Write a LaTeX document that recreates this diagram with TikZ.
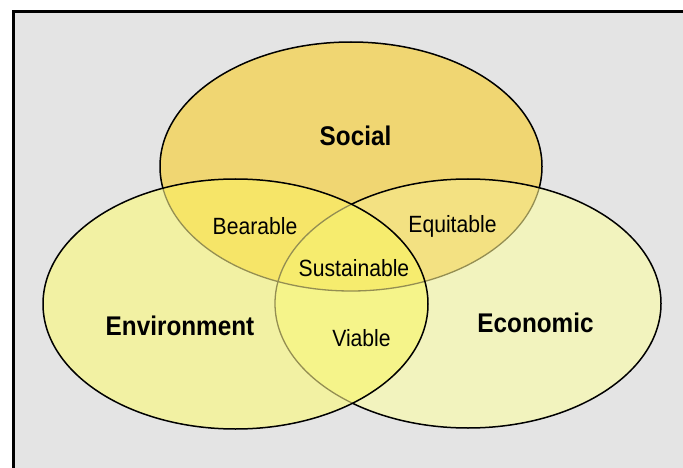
\documentclass[tikz,border=0pt]{standalone}
\usepackage{fontspec}
\setmainfont{Liberation Sans}[FakeStretch=0.9]
\definecolor{bgc}{HTML}{E4E4E4}
\definecolor{socialc}{HTML}{F0D672}
\definecolor{envc}{HTML}{F2F1A3}
\definecolor{econc}{HTML}{F2F3BE}
\definecolor{bearc}{HTML}{F6E568}
\definecolor{equitc}{HTML}{F3E182}
\definecolor{viabc}{HTML}{F5F48A}
\definecolor{susc}{HTML}{F6EC6E}
\definecolor{faintc}{HTML}{948E52}
\def\socialE{(351,166.5) ellipse [x radius=191pt, y radius=124.5pt]}
\def\envE{(235.5,304) ellipse [x radius=192.5pt, y radius=125pt]}
\def\econE{(468,303.5) ellipse [x radius=193pt, y radius=124.5pt]}
\begin{document}
\begin{tikzpicture}[x=1pt,y=-1pt,
  edge/.style={draw=black, line width=1.5pt},
  faint/.style={draw=faintc, line width=1.3pt},
  big/.style={font=\fontsize{27}{30}\selectfont\bfseries, inner sep=0pt, anchor=base},
  small/.style={font=\fontsize{23.5}{26}\selectfont, inner sep=0pt, anchor=base}]
\useasboundingbox (0,0) rectangle (683,468);
\fill[white] (0,0) rectangle (683,468);
\draw[line width=2.5pt, fill=bgc] (13.5,11.5) rectangle (700,490);
% Social
\fill[socialc] \socialE;
\draw[edge] \socialE;
% Economic
\fill[econc] \econE;
\begin{scope}
  \clip \econE;
  \fill[equitc] \socialE;
  \draw[faint] \socialE;
\end{scope}
\draw[edge] \econE;
% Environment
\fill[envc] \envE;
\begin{scope}
  \clip \envE;
  \fill[bearc] \socialE;
  \fill[viabc] \econE;
  \begin{scope}
    \clip \socialE;
    \fill[susc] \econE;
  \end{scope}
  \draw[faint] \socialE;
  \draw[faint] \econE;
\end{scope}
\draw[edge] \envE;
% Labels
\node[big] (social) at (355.5,146) {Social};
\node[big] (environment) at (180,335) {Environment};
\node[big] (economic) at (535.5,332) {Economic};
\node[small] (bearable) at (255,234) {Bearable};
\node[small] (equitable) at (452.5,233) {Equitable};
\node[small] (sustainable) at (354,276) {Sustainable};
\node[small] (viable) at (361.5,346) {Viable};
\end{tikzpicture}
\end{document}
